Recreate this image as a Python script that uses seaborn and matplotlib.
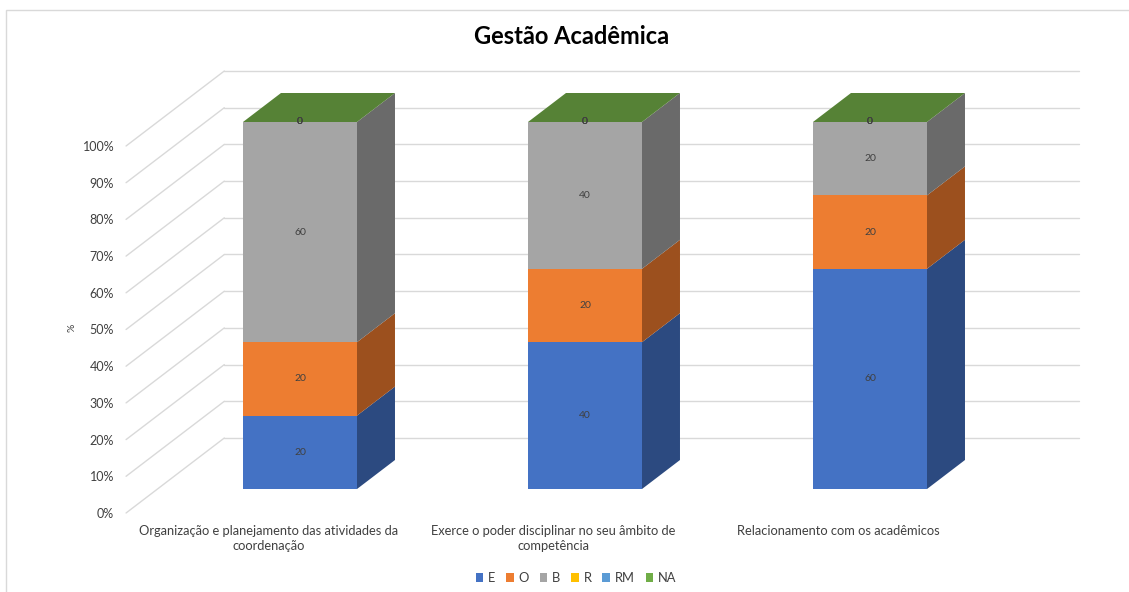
import numpy as np
import pandas as pd
import matplotlib
matplotlib.use("Agg")
import matplotlib.pyplot as plt
import seaborn as sns
from matplotlib.patches import Polygon, Rectangle
from matplotlib.transforms import ScaledTranslation
from matplotlib.lines import Line2D

# ---------------- data ----------------
categories = [
    "Organização e planejamento das atividades da\ncoordenação",
    "Exerce o poder disciplinar no seu âmbito de\ncompetência",
    "Relacionamento com os acadêmicos",
]
series_names = ["E", "O", "B", "R", "RM", "NA"]
E = [20, 40, 60]
O = [20, 20, 20]
B = [60, 40, 20]
R = [0, 0, 0]
RM = [0, 0, 0]
NA = [0, 0, 0]
series_values = [E, O, B, R, RM, NA]
yticks = list(range(0, 101, 10))
ytick_labels = [f"{v}%" for v in yticks]

front_colors = ["#4472C4", "#ED7D31", "#A5A5A5", "#FFC000", "#5B9BD5", "#70AD47"]
side_colors = ["#2C4A80", "#9C501E", "#6A6A6A", "#A67D00", "#3A6590", "#4C7A30"]
top_colors = ["#3A5FA6", "#C5672A", "#8A8A8A", "#D9A300", "#4C84B8", "#568236"]

# ---------------- figure ----------------
sns.set_theme(style="white")
plt.rcParams["font.family"] = ["Lato", "DejaVu Sans"]

W, H, DPI = 1129, 592, 100
fig = plt.figure(figsize=(W / DPI, H / DPI), dpi=DPI)

# axes in pixel layout (front plane of bars)
L, R_, T, B_ = 157.5, 1012.5, 122, 489
ax = fig.add_axes([L / W, 1 - B_ / H, (R_ - L) / W, (B_ - T) / H])
ax.set_xlim(-0.5, len(categories) - 0.5)
ax.set_ylim(0, 100)
for s in ax.spines.values():
    s.set_visible(False)
ax.set_facecolor("none")

ppx = (R_ - L) / len(categories)   # pixels per x unit
ppy = (B_ - T) / 100.0              # pixels per %
slope = 1.31


def off(dy_px):
    return slope * dy_px / ppx, dy_px / ppy


# gridlines: back wall + floor diagonals
bx, by = off(51)
fx, fy = off(-24)
grid_c = "#D9D9D9"
for v in yticks:
    ax.add_line(Line2D([-0.5 + bx, len(categories) - 0.5 + bx], [v + by, v + by],
                       color=grid_c, lw=1.0, zorder=0, clip_on=False))
    ax.add_line(Line2D([-0.5 + fx, -0.5 + bx], [v + fy, v + by],
                       color=grid_c, lw=1.0, zorder=0, clip_on=False))

# stacked bars (front faces) via seaborn
cum = np.zeros(len(categories))
bar_w = 114 / ppx
dx, dy = off(29)
for i, (name, vals) in enumerate(zip(series_names, series_values)):
    n_before = len(ax.patches)
    sns.barplot(x=categories, y=vals, bottom=cum, color=front_colors[i], width=bar_w,
                saturation=1, linewidth=0, edgecolor="none", ax=ax, zorder=3,
                order=categories)
    new = ax.patches[n_before:]
    for p, v, c0 in zip(new, vals, cum):
        x0 = p.get_x()
        x1 = x0 + p.get_width()
        y0 = c0
        y1 = c0 + v
        side = Polygon([(x1, y0), (x1, y1), (x1 + dx, y1 + dy), (x1 + dx, y0 + dy)],
                       closed=True, facecolor=side_colors[i], edgecolor="none",
                       zorder=3, clip_on=False)
        ax.add_patch(side)
        p.set_clip_on(False)
        # data label
        ax.text((x0 + x1) / 2, (y0 + y1) / 2, f"{v}", ha="center", va="center",
                fontsize=7.5, color="#404040", zorder=6)
    cum = cum + np.array(vals)

# top face of the whole stack (top series colour)
for k in range(len(categories)):
    x0 = k - bar_w / 2
    x1 = k + bar_w / 2
    y1 = cum[k]
    top = Polygon([(x0, y1), (x1, y1), (x1 + dx, y1 + dy), (x0 + dx, y1 + dy)],
                  closed=True, facecolor=top_colors[-1], edgecolor="none",
                  zorder=4, clip_on=False)
    ax.add_patch(top)

# ticks
ax.set_yticks(yticks)
ax.set_yticklabels(ytick_labels)
ax.set_xticks(range(len(categories)))
ax.set_xticklabels(categories, linespacing=1.3)
ax.tick_params(axis="both", length=0)
ax.tick_params(axis="y", pad=8.6, labelsize=9.0, labelcolor="#404040")
ax.tick_params(axis="x", pad=8.8, labelsize=9.3, labelcolor="#404040")
shift = ScaledTranslation(-slope * 24 / DPI, -24 / DPI, fig.dpi_scale_trans)
for lab in ax.get_yticklabels() + ax.get_xticklabels():
    lab.set_transform(lab.get_transform() + shift)
ax.set_xlabel("")
ax.set_ylabel("")

# y axis title
fig.text(72 / W, 1 - 328 / H, "%", rotation=90, ha="center", va="center",
         fontsize=7.5, color="#404040")

# title
fig.text(572 / W, 1 - 37 / H, "Gestão Acadêmica", ha="center", va="center",
         fontsize=17, fontweight="bold", color="#000000")

# legend
handles = [Rectangle((0, 0), 1, 1, facecolor=c, edgecolor="none") for c in front_colors]
fig.legend(handles, series_names, loc="center", bbox_to_anchor=(576 / W, 1 - 578 / H),
           ncol=6, frameon=False, fontsize=9.3, handlelength=0.6, handleheight=0.6,
           handletextpad=0.35, columnspacing=0.85, labelcolor="#404040")

# chart border
fig.patches.append(Rectangle((6 / W, -0.1), 1.2, 1 - 10 / H + 0.1,
                             transform=fig.transFigure, fill=False,
                             edgecolor="#D9D9D9", lw=1.0))

fig.savefig("out.png", dpi=DPI)
